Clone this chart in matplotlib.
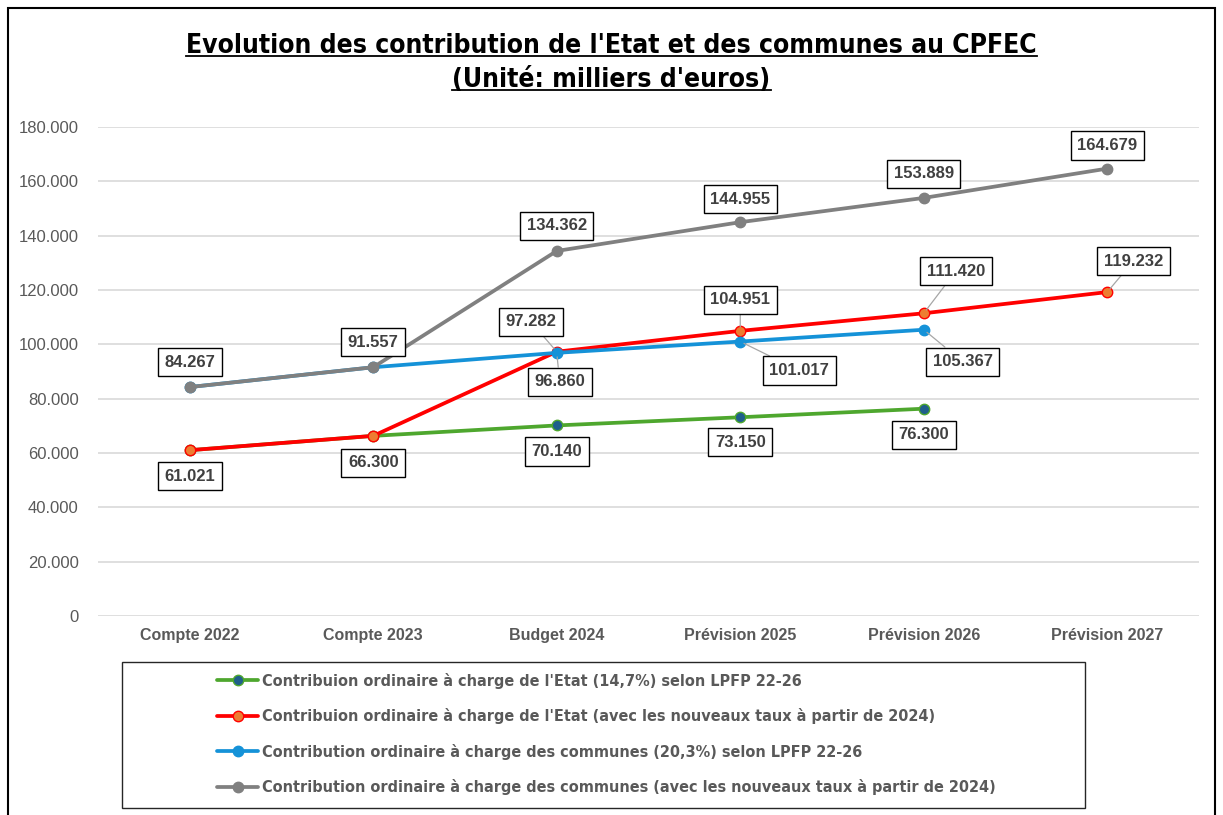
import numpy as np
import matplotlib
matplotlib.use("Agg")
import matplotlib.pyplot as plt
from matplotlib.patches import Rectangle
from matplotlib.lines import Line2D
from matplotlib.ticker import FuncFormatter

categories = ["Compte 2022", "Compte 2023", "Budget 2024", "Prévision 2025",
              "Prévision 2026", "Prévision 2027"]

etat_lpfp = [61021, 66300, 70140, 73150, 76300, np.nan]
etat_new = [61021, 66300, 97282, 104951, 111420, 119232]
communes_lpfp = [84267, 91557, 96860, 101017, 105367, np.nan]
communes_new = [84267, 91557, 134362, 144955, 153889, 164679]

legend_labels = [
    "Contribuion ordinaire à charge de l'Etat (14,7%) selon LPFP 22-26",
    "Contribuion ordinaire à charge de l'Etat (avec les nouveaux taux à partir de 2024)",
    "Contribution ordinaire à charge des communes (20,3%) selon LPFP 22-26",
    "Contribution ordinaire à charge des communes (avec les nouveaux taux à partir de 2024)",
]

title_lines = ["Evolution des contribution de l'Etat et des communes au CPFEC",
               "(Unité: milliers d'euros)"]

SANS = ["Liberation Sans", "DejaVu Sans"]


def fmt(v):
    return "{:,.0f}".format(v).replace(",", ".")


fig = plt.figure(figsize=(12.23, 8.15), dpi=100)
ax = fig.add_axes([0.0801, 0.2442, 0.9003, 0.6])

x = np.arange(len(categories))
series = [
    (etat_lpfp, "#4ea72e", "#1f5f8b", "#4ea72e"),
    (etat_new, "#ff0000", "#ed7d31", "#ff0000"),
    (communes_lpfp, "#1592d8", "#1592d8", "#1592d8"),
    (communes_new, "#808080", "#808080", "#808080"),
]
handles = []
for vals, lc, mfc, mec in series:
    h, = ax.plot(x, vals, color=lc, lw=2.7, marker="o", ms=7.5,
                 mfc=mfc, mec=mec, mew=1.0, solid_capstyle="round")
    handles.append(h)

ax.set_xlim(-0.5, len(categories) - 0.5)
ax.set_ylim(0, 180000)
ax.set_yticks(np.arange(0, 180001, 20000))
ax.yaxis.set_major_formatter(FuncFormatter(lambda v, p: fmt(v)))
ax.set_xticks(x)
ax.set_xticklabels(categories, fontweight="bold", color="#595959",
                   fontsize=11.5, family=SANS)
for t in ax.get_yticklabels():
    t.set_family(SANS)
ax.tick_params(axis="y", length=0, pad=14, labelsize=12, labelcolor="#595959")
ax.tick_params(axis="x", length=0, pad=9)
ax.grid(axis="y", color="#d9d9d9", lw=1.2)
ax.set_axisbelow(True)
for s in ax.spines.values():
    s.set_visible(False)

# data labels: (series values, index, dx, dy in pixels, leader line)
labels = [
    (communes_new, 0, 0, 25, False), (communes_new, 1, 0, 25, False),
    (communes_new, 2, 0, 25, False), (communes_new, 3, 0, 23, False),
    (communes_new, 4, 0, 24, False), (communes_new, 5, 0, 23, False),
    (etat_new, 0, 0, -26, False), (etat_new, 1, 0, -27, False),
    (etat_new, 2, -26, 30, True), (etat_new, 3, 0, 31, True),
    (etat_new, 4, 32, 42, True), (etat_new, 5, 26, 31, True),
    (communes_lpfp, 2, 3, -29, True), (communes_lpfp, 3, 59, -29, True),
    (communes_lpfp, 4, 39, -32, True),
    (etat_lpfp, 2, 0, -26, False), (etat_lpfp, 3, 0, -25, False),
    (etat_lpfp, 4, 0, -26, False),
]
for vals, i, dx, dy, leader in labels:
    arrow = None
    if leader:
        arrow = dict(arrowstyle="-", color="#a6a6a6", lw=0.9,
                     shrinkA=0, shrinkB=3)
    ax.annotate(fmt(vals[i]), (x[i], vals[i]), xytext=(dx, dy),
                textcoords="offset pixels", ha="center", va="center",
                fontsize=12, fontweight="bold", color="#404040",
                family=SANS, zorder=5, arrowprops=arrow,
                bbox=dict(boxstyle="square,pad=0.4", fc="white",
                          ec="black", lw=1.0))

# legend
fig.legend(handles, legend_labels, loc="center left",
           bbox_to_anchor=(217 / 1223, (815 - 734) / 815), frameon=False,
           borderpad=0, borderaxespad=0, handlelength=2.55, handletextpad=0.25,
           labelspacing=1.22, prop=dict(family="DejaVu Sans", weight="bold",
                                        stretch="condensed", size=11.6),
           labelcolor="#595959")
fig.add_artist(Rectangle((122 / 1223, (815 - 808) / 815), 963 / 1223,
                         146 / 815, transform=fig.transFigure, fill=False,
                         ec="#262626", lw=1.0))

# outer frame
fig.add_artist(Rectangle((8 / 1223, -0.02), 1207 / 1223, 1.02 - 8 / 815,
                         transform=fig.transFigure, fill=False,
                         ec="black", lw=1.5))

# title with underline
title_texts = []
for line, yp in zip(title_lines, [46, 80]):
    t = fig.text(0.5, 1 - yp / 815, line, ha="center", va="center",
                 fontsize=19, fontweight="bold", color="black",
                 family="DejaVu Sans", stretch="condensed")
    title_texts.append(t)
fig.canvas.draw()
r = fig.canvas.get_renderer()
for t in title_texts:
    bb = t.get_window_extent(r)
    yl = bb.y0 + 3
    fig.add_artist(Line2D([bb.x0 / 1223, bb.x1 / 1223], [yl / 815, yl / 815],
                          transform=fig.transFigure, color="black", lw=1.3))

fig.savefig("out.png", dpi=100)
